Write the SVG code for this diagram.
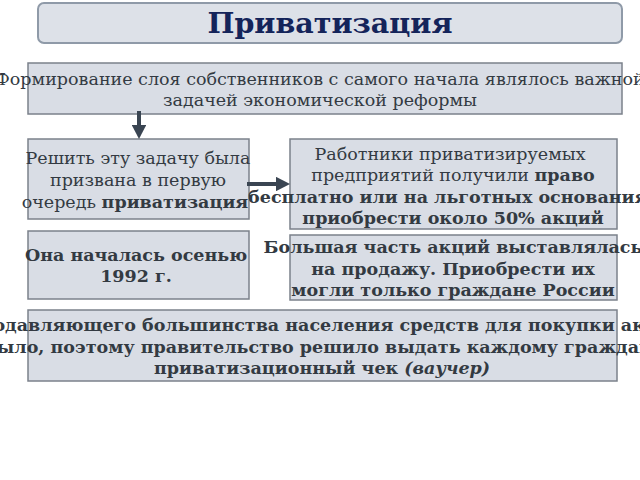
<svg xmlns="http://www.w3.org/2000/svg" width="640" height="480" viewBox="0 0 640 480">
<style>
.box{fill:#d9dde5;stroke:#7b818b;stroke-width:1.5}
.t{font-family:"DejaVu Serif","Liberation Serif",serif;font-size:17.5px;fill:#333a42;text-anchor:middle}
.b{font-weight:bold}
.conn{stroke:#3a4552;stroke-width:4;fill:none}
</style>
<defs>
<marker id="ah" markerWidth="3.5" markerHeight="3.6" refX="0" refY="1.8" orient="auto" markerUnits="strokeWidth">
<path d="M0,0 L3.5,1.8 L0,3.6 z" fill="#3a4552"/>
</marker>
</defs>
<rect width="640" height="480" fill="#ffffff"/>
<g id="title">
<rect x="38" y="3" width="584" height="40" rx="6" fill="#dde1e8" stroke="#8f9aa8" stroke-width="2"/>
<text x="330" y="33" font-family="DejaVu Serif,Liberation Serif,serif" font-size="28.5" font-weight="bold" fill="#14245a" text-anchor="middle">Приватизация</text>
</g>
<g id="n1">
<rect class="box" x="28" y="63" width="594" height="51"/>
<text class="t" x="320" y="85">Формирование слоя собственников с самого начала являлось важной</text>
<text class="t" x="320" y="106">задачей экономической реформы</text>
</g>
<g id="n2">
<rect class="box" x="28" y="139" width="221" height="80"/>
<text class="t" x="138" y="164">Решить эту задачу была</text>
<text class="t" x="138" y="186">призвана в первую</text>
<text class="t" x="135" y="208">очередь <tspan class="b">приватизация</tspan></text>
</g>
<g id="n3">
<rect class="box" x="290" y="139" width="327" height="90"/>
<text class="t" x="450" y="160">Работники приватизируемых</text>
<text class="t" x="453" y="181">предприятий получили <tspan class="b">право</tspan></text>
<text class="t b" x="453" y="203">бесплатно или на льготных основаниях</text>
<text class="t b" x="453" y="224">приобрести около 50% акций</text>
</g>
<g id="n4">
<rect class="box" x="28" y="231" width="221" height="68"/>
<text class="t b" x="136" y="261">Она началась осенью</text>
<text class="t b" x="136" y="282">1992 г.</text>
</g>
<g id="n5">
<rect class="box" x="290" y="235" width="327" height="65"/>
<text class="t b" x="453" y="253">Большая часть акций выставлялась</text>
<text class="t b" x="453" y="275">на продажу. Приобрести их</text>
<text class="t b" x="453" y="296">могли только граждане России</text>
</g>
<g id="n6">
<rect class="box" x="28" y="310" width="589" height="71"/>
<text class="t b" x="322" y="331">У подавляющего большинства населения средств для покупки акций</text>
<text class="t b" x="322" y="353">не было, поэтому правительство решило выдать каждому гражданину</text>
<text class="t b" x="322" y="374">приватизационный чек <tspan font-style="italic">(ваучер)</tspan></text>
</g>
<g id="connectors">
<line class="conn" x1="139" y1="111" x2="139" y2="125" marker-end="url(#ah)"/>
<line class="conn" x1="247" y1="184" x2="276" y2="184" marker-end="url(#ah)"/>
</g>
</svg>
